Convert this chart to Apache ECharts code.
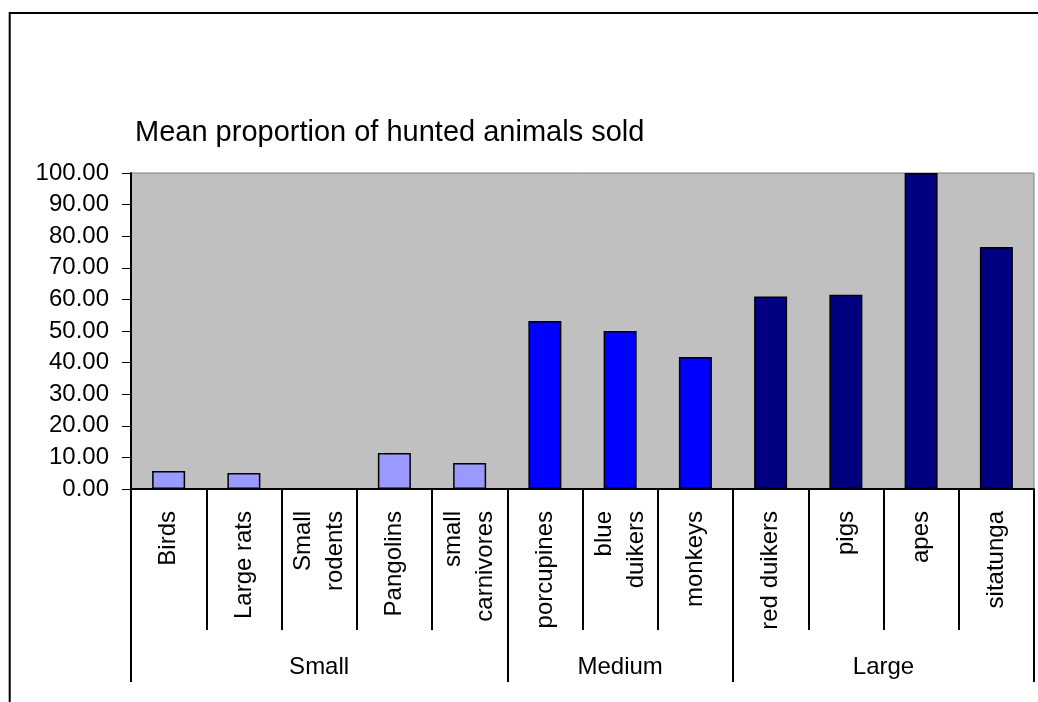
<!DOCTYPE html>
<html>
<head>
<meta charset="utf-8">
<title>Mean proportion of hunted animals sold</title>
<script src="https://cdn.jsdelivr.net/npm/echarts@6/dist/echarts.min.js"></script>
<style>
  html, body { margin: 0; padding: 0; background: #fff; }
  #main { width: 1038px; height: 702px; }
</style>
</head>
<body>
<div id="main"></div>
<script>
// data
const categories = ['Birds', 'Large rats', 'Small\nrodents', 'Pangolins', 'small\ncarnivores',
  'porcupines', 'blue\nduikers', 'monkeys',
  'red duikers', 'pigs', 'apes', 'sitatunga'];
const values = [5.7, 5.1, 0, 11.4, 8.2, 53.2, 50.0, 41.8, 60.9, 61.5, 100, 76.6];
const groups = ['Small', 'Medium', 'Large'];
const groupSizes = [5, 3, 4];
const yTicks = [0, 10, 20, 30, 40, 50, 60, 70, 80, 90, 100];

const groupColors = ['#9999FF', '#0000FF', '#000080'];
const font = "'Liberation Sans', Arial, sans-serif";

// group boundaries and centres on a 0..n scale
let bounds = [0],
  mids = [],
  colorOf = [];
groupSizes.forEach((n, g) => {
  let start = bounds[bounds.length - 1];
  bounds.push(start + n);
  mids.push(start + n / 2);
  for (let i = 0; i < n; i++) colorOf.push(groupColors[g]);
});

let chart = echarts.init(document.getElementById('main'), null, { renderer: 'canvas' });

let option = {
  animation: false,
  backgroundColor: '#fff',
  title: {
    text: 'Mean proportion of hunted animals sold',
    left: 135,
    top: 118,
    padding: 0,
    textStyle: { fontFamily: font, fontSize: 29, fontWeight: 'normal', color: '#000' }
  },
  graphic: [{
    type: 'rect',
    z: -1,
    shape: { x: 9.7, y: 13, width: 1200, height: 900 },
    style: { fill: 'none', stroke: '#000', lineWidth: 2 }
  }],
  grid: {
    left: 131,
    right: 4,
    top: 173,
    bottom: 213,
    show: true,
    backgroundColor: '#C0C0C0',
    borderColor: '#808080',
    borderWidth: 1
  },
  xAxis: [{
    type: 'category',
    position: 'bottom',
    data: categories,
    axisLine: { show: true, lineStyle: { color: '#000', width: 2 } },
    axisTick: { show: true, interval: 0, length: 141, lineStyle: { color: '#000', width: 2 } },
    axisLabel: {
      interval: 0,
      rotate: 90,
      margin: 22,
      fontFamily: font,
      fontSize: 24,
      lineHeight: 32,
      color: '#000'
    },
    splitLine: { show: false }
  }, {
    type: 'value',
    position: 'bottom',
    min: 0,
    max: categories.length,
    axisLine: { show: false },
    splitLine: { show: false },
    axisTick: {
      show: true,
      customValues: bounds,
      length: 193,
      lineStyle: { color: '#000', width: 2 }
    },
    axisLabel: {
      customValues: mids,
      formatter: v => groups[mids.indexOf(v)] || '',
      margin: 166,
      fontFamily: font,
      fontSize: 24,
      color: '#000'
    }
  }],
  yAxis: {
    type: 'value',
    min: yTicks[0],
    max: yTicks[yTicks.length - 1],
    interval: yTicks[1] - yTicks[0],
    axisLine: { show: true, lineStyle: { color: '#000', width: 2 } },
    axisTick: { show: true, length: 9, lineStyle: { color: '#000', width: 1 } },
    axisLabel: {
      margin: 22,
      fontFamily: font,
      fontSize: 24,
      color: '#000',
      formatter: v => v.toFixed(2)
    },
    splitLine: { show: false }
  },
  series: [{
    type: 'bar',
    xAxisIndex: 0,
    barWidth: 33,
    data: values.map((v, i) => ({
      value: v,
      itemStyle: { color: colorOf[i] }
    })),
    itemStyle: { borderColor: '#000', borderWidth: 1.5 }
  }]
};

chart.setOption(option);
</script>
</body>
</html>
